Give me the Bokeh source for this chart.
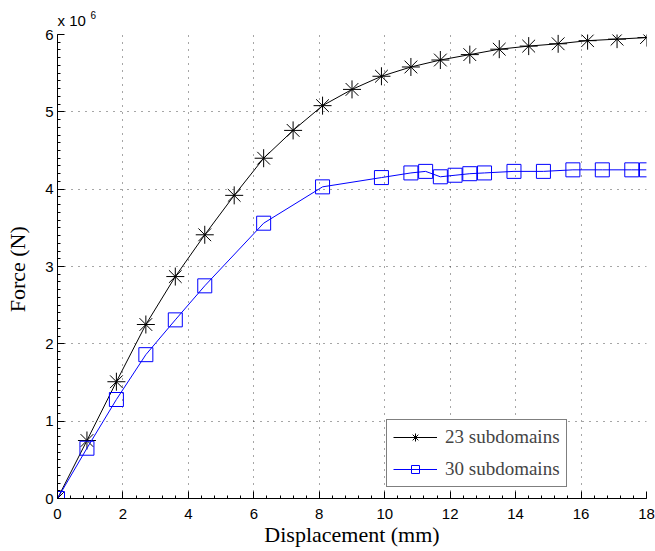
from bokeh.plotting import figure
from bokeh.models import Range1d, Legend, LegendItem, FixedTicker, Title
from bokeh.embed import file_html
from bokeh.resources import INLINE

# Data (force in units of 1e6 N)
disp_23 = [0, 0.9, 1.8, 2.7, 3.6, 4.5, 5.4, 6.3, 7.2, 8.1, 9.0, 9.9, 10.8, 11.7,
           12.6, 13.5, 14.4, 15.3, 16.2, 17.1, 18.0]
force_23 = [0, 0.75, 1.51, 2.25, 2.87, 3.41, 3.92, 4.40, 4.76, 5.08, 5.29, 5.46,
            5.58, 5.67, 5.74, 5.81, 5.85, 5.88, 5.92, 5.94, 5.96]

disp_30 = [0, 0.9, 1.8, 2.7, 3.6, 4.5, 6.3, 8.1, 9.9, 10.8, 11.25, 11.7, 12.15,
           12.6, 13.05, 13.95, 14.85, 15.75, 16.65, 17.55, 18.0]
force_30 = [0, 0.65, 1.28, 1.86, 2.31, 2.75, 3.56, 4.03, 4.15, 4.21, 4.23, 4.16,
            4.18, 4.20, 4.21, 4.23, 4.23, 4.25, 4.25, 4.25, 4.25]

x_ticks = [0, 2, 4, 6, 8, 10, 12, 14, 16, 18]
y_ticks = [0, 1, 2, 3, 4, 5, 6]
series_labels = ["23 subdomains", "30 subdomains"]

p = figure(width=655, height=551, output_backend="svg", toolbar_location=None,
           x_range=Range1d(0, 18), y_range=Range1d(0, 6),
           min_border_left=57, min_border_right=9, min_border_top=34,
           min_border_bottom=53)
p.outline_line_color = None
p.background_fill_color = "white"

# exponent marker above the y axis: superscript "6" (outer) and "x 10" (inner)
p.title.text = "6"
p.title.align = "left"
p.title.offset = 33
p.title.text_font = "Liberation Sans"
p.title.text_font_size = "10px"
p.title.text_font_style = "normal"
p.title.text_color = "black"
p.title.standoff = -28
p.add_layout(Title(text="x 10", align="left", offset=0, text_font="Liberation Sans",
                   text_font_size="15px", text_font_style="normal",
                   text_color="black", standoff=11),
             "above")

l1 = p.line(disp_23, force_23, line_color="black", line_width=1)
s1 = p.scatter(disp_23, force_23, marker="asterisk", size=18, line_color="black",
               line_width=1)
l2 = p.line(disp_30, force_30, line_color="#0000ff", line_width=1)
s2 = p.scatter(disp_30, force_30, marker="square", size=14, line_color="#0000ff",
               fill_color=None, line_width=1)

# axes
for ax in (p.xaxis[0], p.yaxis[0]):
    ax.axis_line_color = "black"
    ax.major_tick_in = 7
    ax.major_tick_out = 0
    ax.minor_tick_in = 3
    ax.minor_tick_out = 0
    ax.major_tick_line_color = "black"
    ax.minor_tick_line_color = "black"
    ax.major_label_text_font = "Liberation Sans"
    ax.major_label_text_font_size = "15px"
    ax.major_label_text_color = "black"
    ax.axis_label_text_font = "Liberation Serif"
    ax.axis_label_text_font_size = "22px"
    ax.axis_label_text_font_style = "normal"
    ax.axis_label_text_color = "black"

p.xaxis[0].ticker = FixedTicker(ticks=x_ticks,
                                minor_ticks=[i * 0.4 for i in range(0, 46)])
p.yaxis[0].ticker = FixedTicker(ticks=y_ticks,
                                minor_ticks=[i * 0.1 for i in range(0, 61)])
p.xaxis[0].axis_label = "Displacement (mm)"
p.yaxis[0].axis_label = "Force  (N)"
p.xaxis[0].major_label_standoff = 10
p.xaxis[0].axis_label_standoff = 0
p.yaxis[0].major_label_standoff = 4
p.yaxis[0].axis_label_standoff = 12

# grid
for g in (p.xgrid[0], p.ygrid[0]):
    g.grid_line_color = "black"
    g.grid_line_alpha = 0.7
    g.grid_line_dash = "1 6"
    g.grid_line_width = 1
p.xgrid[0].ticker = FixedTicker(ticks=x_ticks)
p.ygrid[0].ticker = FixedTicker(ticks=y_ticks)

legend = Legend(items=[LegendItem(label=series_labels[0], renderers=[l1, s1]),
                       LegendItem(label=series_labels[1], renderers=[l2, s2])],
                location=(329, 11))
legend.border_line_color = "black"
legend.border_line_width = 1
legend.background_fill_alpha = 1
legend.label_text_font = "Liberation Serif"
legend.label_text_font_size = "19px"
legend.glyph_width = 44
legend.glyph_height = 20
legend.label_height = 20
legend.spacing = 10
legend.padding = 6
legend.margin = 0
legend.label_standoff = 8
p.add_layout(legend, "center")

open("out.html", "w").write(file_html(p, INLINE))
